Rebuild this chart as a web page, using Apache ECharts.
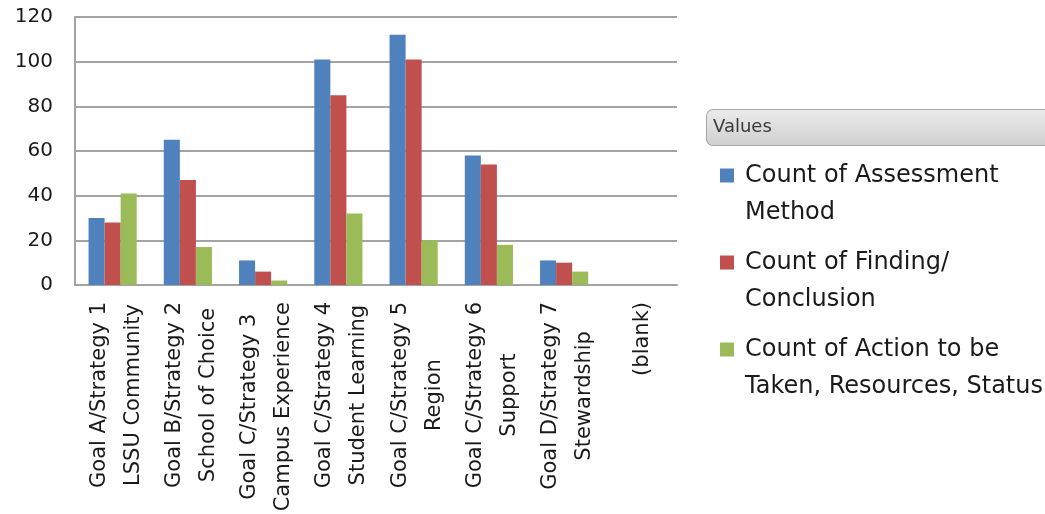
<!DOCTYPE html>
<html>
<head>
<meta charset="utf-8">
<script src="https://cdn.jsdelivr.net/npm/echarts@6/dist/echarts.min.js"></script>
<style>
  html, body { margin: 0; padding: 0; background: #fff; }
  #chart { width: 1045px; height: 514px; }
</style>
</head>
<body>
<div id="chart"></div>
<script>
// Strategy categories (two-line labels) and the three counted fields
const categories = [
  'Goal A/Strategy 1\nLSSU Community',
  'Goal B/Strategy 2\nSchool of Choice',
  'Goal C/Strategy 3\nCampus Experience',
  'Goal C/Strategy 4\nStudent Learning',
  'Goal C/Strategy 5\nRegion',
  'Goal C/Strategy 6\nSupport',
  'Goal D/Strategy 7\nStewardship',
  '(blank)'
];
const seriesNames = [
  'Count of Assessment\nMethod',
  'Count of Finding/\nConclusion',
  'Count of Action to be\nTaken, Resources, Status'
];
const assessmentMethod = [30, 65, 11, 101, 112, 58, 11, null];
const findingConclusion = [28, 47, 6, 85, 101, 54, 10, null];
const actionTaken = [41, 17, 2, 32, 20, 18, 6, null];
const yTicks = { min: 0, max: 120, interval: 20 };
const legendTitle = 'Values';

const FONT = 'DejaVu Sans';
const colors = ['#4F81BD', '#C0504D', '#9BBB59'];
const gridColor = '#a3a3a3';

const chart = echarts.init(document.getElementById('chart'), null, { renderer: 'canvas' });

const option = {
  backgroundColor: '#ffffff',
  animation: false,
  color: colors,
  title: {
    left: 707,
    top: 110,
    padding: 0,
    text: '{box|' + legendTitle + '}',
    textStyle: {
      rich: {
        box: {
          width: 360,
          height: 35,
          padding: [0, 0, 0, 6],
          fontFamily: FONT,
          fontSize: 18,
          fontWeight: 'normal',
          color: '#3a3a3a',
          borderColor: '#a8a8a8',
          borderWidth: 1,
          borderRadius: 6,
          backgroundColor: {
            type: 'linear', x: 0, y: 0, x2: 0, y2: 1,
            colorStops: [
              { offset: 0, color: '#ececec' },
              { offset: 1, color: '#cfcfcf' }
            ]
          }
        }
      }
    }
  },
  legend: {
    orient: 'vertical',
    left: 720,
    top: 120,
    padding: 0,
    itemGap: -24,
    itemWidth: 14,
    itemHeight: 14,
    icon: 'rect',
    data: seriesNames,
    // leading blank line keeps the swatch level with the first text line
    formatter: function (name) { return '\n' + name; },
    textStyle: {
      fontFamily: FONT,
      fontSize: 24,
      lineHeight: 37,
      padding: [0, 0, 0, 6],
      color: '#1a1a1a'
    }
  },
  grid: {
    left: 75,
    right: 368,
    top: 17,
    bottom: 229,
    outerBoundsMode: 'none'
  },
  xAxis: {
    type: 'category',
    data: categories,
    boundaryGap: true,
    axisLine: { show: true, lineStyle: { color: gridColor, width: 2 } },
    axisTick: { show: false },
    axisLabel: {
      interval: 0,
      rotate: 90,
      margin: 17,
      padding: [7, 0, 0, 0],
      formatter: function (value) {
        return value.split('\n').map(function (s) { return '{c|' + s + '}'; }).join('\n');
      },
      rich: {
        c: {
          align: 'center',
          fontFamily: FONT,
          fontSize: 21,
          lineHeight: 34,
          color: '#1a1a1a'
        }
      }
    }
  },
  yAxis: {
    type: 'value',
    min: yTicks.min,
    max: yTicks.max,
    interval: yTicks.interval,
    axisLine: { show: true, lineStyle: { color: gridColor, width: 2 } },
    axisTick: { show: false },
    splitLine: { show: true, lineStyle: { color: gridColor, width: 2 } },
    axisLabel: {
      margin: 22,
      fontFamily: FONT,
      fontSize: 20,
      color: '#1a1a1a'
    }
  },
  series: [
    { name: seriesNames[0], type: 'bar', data: assessmentMethod, barGap: '0%', barCategoryGap: '36%' },
    { name: seriesNames[1], type: 'bar', data: findingConclusion, barGap: '0%', barCategoryGap: '36%' },
    { name: seriesNames[2], type: 'bar', data: actionTaken, barGap: '0%', barCategoryGap: '36%' }
  ]
};

chart.setOption(option);
</script>
</body>
</html>
